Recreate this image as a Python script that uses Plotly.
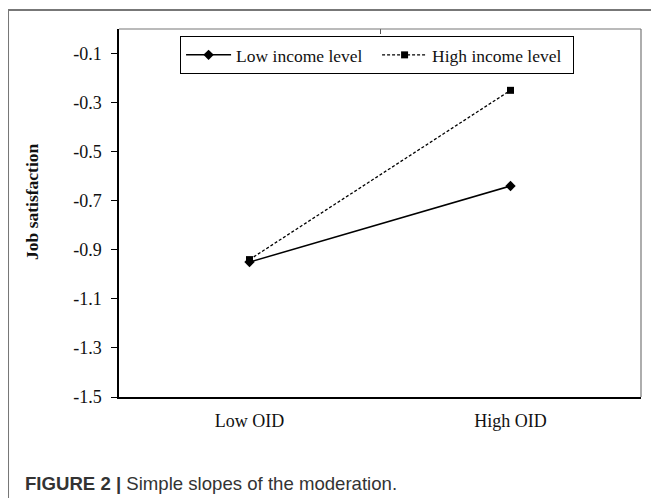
import plotly.graph_objects as go

categories = ["Low OID", "High OID"]
low_income = [-0.95, -0.64]
high_income = [-0.94, -0.25]
y_ticks = [-0.1, -0.3, -0.5, -0.7, -0.9, -1.1, -1.3, -1.5]
y_tick_text = ["-0.1", "-0.3", "-0.5", "-0.7", "-0.9", "-1.1", "-1.3", "-1.5"]

x_pos = [1, 2]
serif = "Liberation Serif, Times New Roman, serif"

fig = go.Figure()
fig.add_trace(go.Scatter(
    x=x_pos, y=low_income, name="Low income level", mode="lines+markers",
    line=dict(color="black", width=1.5),
    marker=dict(symbol="diamond", size=8, color="black"),
))
fig.add_trace(go.Scatter(
    x=x_pos, y=high_income, name="High income level", mode="lines+markers",
    line=dict(color="black", width=1.3, dash="3px,2px"),
    marker=dict(symbol="square", size=7, color="black"),
))
# invisible helper trace for top category-boundary tick
fig.add_trace(go.Scatter(x=[1.5], y=[None], xaxis="x2", showlegend=False, hoverinfo="skip"))

fig.update_layout(
    width=651, height=490,
    margin=dict(l=111, r=18, t=21, b=101),
    paper_bgcolor="white", plot_bgcolor="white",
    showlegend=True,
    legend=dict(
        orientation="h", x=0.117, y=0.981, xanchor="left", yanchor="top",
        bordercolor="black", borderwidth=1, bgcolor="white",
        entrywidth=136, entrywidthmode="pixels", itemwidth=45,
        font=dict(family=serif, size=17.5, color="#111"),
    ),
    xaxis=dict(
        range=[0.5, 2.5], tickvals=x_pos, ticktext=categories,
        showline=True, linecolor="black", linewidth=1.5,
        ticks="", showgrid=False, zeroline=False, automargin=False,
        tickfont=dict(family=serif, size=18, color="#111"),
        ticklabelstandoff=7,
    ),
    xaxis2=dict(
        overlaying="x", side="top", range=[0.5, 2.5], tickvals=[1.5],
        ticks="inside", ticklen=5, tickcolor="#555", showticklabels=False,
        showgrid=False, zeroline=False, showline=False, automargin=False,
    ),
    yaxis=dict(
        range=[-1.5, 0.0], tickvals=y_ticks, ticktext=y_tick_text,
        showline=True, linecolor="black", linewidth=1.5,
        ticks="outside", ticklen=6, tickcolor="black", tickwidth=1,
        showgrid=False, zeroline=False, automargin=False,
        tickfont=dict(family=serif, size=18, color="#111"),
        ticklabelstandoff=6,
    ),
    shapes=[
        dict(type="line", xref="paper", yref="paper", x0=0, x1=1, y0=1, y1=1,
             line=dict(color="#777", width=1.2)),
        dict(type="line", xref="paper", yref="paper", x0=1, x1=1, y0=0, y1=1,
             line=dict(color="#777", width=1.2)),
        dict(type="line", xref="paper", yref="paper", x0=-0.2126, x1=1.1, y0=1.0516, y1=1.0516,
             line=dict(color="#777", width=2)),
        dict(type="line", xref="paper", yref="paper", x0=-0.2126, x1=-0.2126, y0=1.0516, y1=-0.4,
             line=dict(color="#777", width=2)),
    ],
    annotations=[
        dict(text="<b>Job satisfaction</b>", textangle=-90,
             xref="paper", yref="paper", x=-0.1667, y=0.53, xanchor="center", yanchor="middle",
             showarrow=False, font=dict(family=serif, size=17.5, color="#111")),
        dict(text="<b>FIGURE 2 |</b> Simple slopes of the moderation.",
             xref="paper", yref="paper", x=-0.1839, y=-0.2364, xanchor="left", yanchor="middle",
             showarrow=False, font=dict(family="Liberation Sans, Arial, sans-serif", size=18.6, color="#333")),
    ],
)

fig.write_html("out.html")
